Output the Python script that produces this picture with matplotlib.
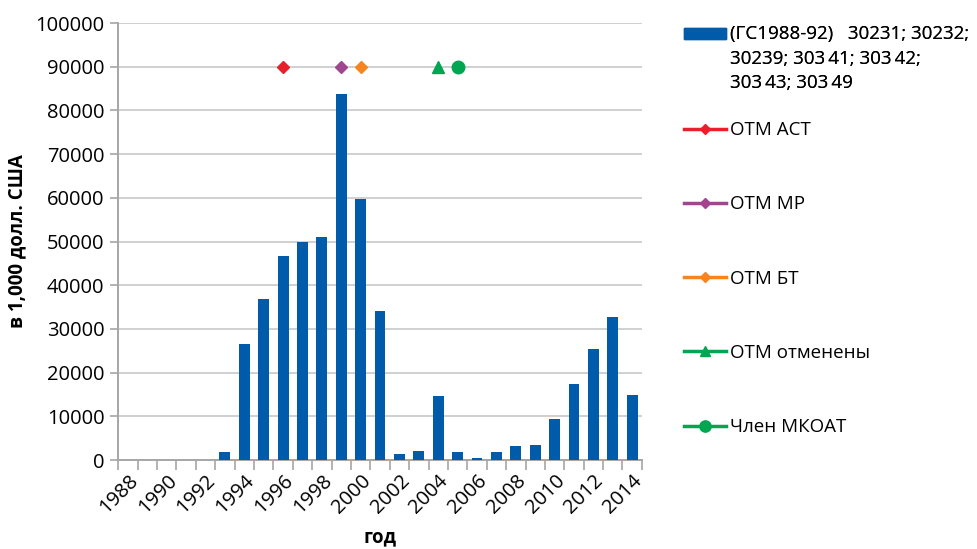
import matplotlib
matplotlib.use("Agg")
import matplotlib.pyplot as plt
import numpy as np
from matplotlib.lines import Line2D
from matplotlib.patches import Rectangle
from matplotlib.legend_handler import HandlerPatch

plt.rcParams['font.family'] = ['Open Sans', 'DejaVu Sans']

years = list(range(1988, 2015))
values = [0, 0, 0, 0, 0, 1900, 26500, 36800, 46800, 49800, 51100, 83700, 59700,
          34000, 1500, 2100, 14700, 1750, 500, 1850, 3300, 3500, 9300, 17400,
          25300, 32700, 15000]
bar_label = "(ГС1988-92)   30231; 30232;\n30239; 303\u200941; 303\u200942;\n303\u200943; 303\u200949"

marker_names = ["ОТМ АСТ", "ОТМ МР", "ОТМ БТ", "ОТМ отменены", "Член МКОАТ"]
marker_years = [1996, 1999, 2000, 2004, 2005]
marker_value = 90000
marker_colors = ["#e8202a", "#a0468f", "#f7851f", "#00a651", "#00a651"]
marker_shapes = ["D", "D", "D", "^", "o"]
marker_sizes = [6, 6, 6, 8, 9]

bar_color = "#005bab"
axis_color = "#a6a6a6"
grid_color = "#c8c8c8"

fig = plt.figure(figsize=(9.77, 5.49), dpi=100)
ax = fig.add_axes([0.121, 0.162, 0.536, 0.796])

x = np.arange(len(years))
ax.bar(x, values, width=0.56, color=bar_color, zorder=3)

handles = []
for name, yr, c, m, s in zip(marker_names, marker_years, marker_colors, marker_shapes, marker_sizes):
    xi = years.index(yr)
    ax.plot([xi], [marker_value], marker=m, color=c, markersize=s, linestyle='none', zorder=4)
    handles.append(Line2D([], [], color=c, marker=m, markersize=s * 0.9, linewidth=2.5))

ax.set_xlim(-0.5, len(years) - 0.5)
ax.set_ylim(0, 100000)
ax.set_yticks(np.arange(0, 100001, 10000))
ax.yaxis.grid(True, color=grid_color, linewidth=1.2, zorder=0)
ax.set_axisbelow(True)

ax.set_xticks(x[::2])
ax.set_xticklabels([str(y) for y in years[::2]], rotation=45, ha='right',
                   rotation_mode='anchor', fontsize=14.5)
ax.set_xticks(np.arange(-0.5, len(years), 1.0), minor=True)
ax.tick_params(axis='x', which='major', length=0, pad=8)
ax.tick_params(axis='x', which='minor', length=7, color=axis_color, width=1.2)
ax.tick_params(axis='y', length=6, color=axis_color, width=1.2, labelsize=14.5, pad=4)

for sp in ['top', 'right']:
    ax.spines[sp].set_visible(False)
for sp in ['left', 'bottom']:
    ax.spines[sp].set_color(axis_color)
    ax.spines[sp].set_linewidth(1.4)

ax.set_ylabel("в 1,000 долл. США", fontsize=13.5, fontweight='bold', labelpad=6)
ax.set_xlabel("год", fontsize=13.5, fontweight='bold')
ax.xaxis.set_label_coords(0.5, -0.155)


def top_rect(legend, orig_handle, xdescent, ydescent, width, height, fontsize):
    off = fontsize * 1.36
    return Rectangle((-xdescent, -ydescent + off), width, height)


bar_handle = Rectangle((0, 0), 1, 1, color=bar_color)
leg1 = fig.legend([bar_handle], [bar_label], loc='upper left',
                  bbox_to_anchor=(0.683, 0.985), frameon=False, fontsize=13.5,
                  handlelength=2.25, handleheight=0.55, handletextpad=0.2,
                  handler_map={Rectangle: HandlerPatch(patch_func=top_rect)})
for t in leg1.get_texts():
    t.set_linespacing(1.46)
fig.add_artist(leg1)
fig.legend(handles, marker_names, loc='upper left', bbox_to_anchor=(0.683, 0.81),
           frameon=False, fontsize=13.5, handlelength=2.25, handletextpad=0.2,
           labelspacing=3.0)

fig.savefig("out.png", dpi=100)
